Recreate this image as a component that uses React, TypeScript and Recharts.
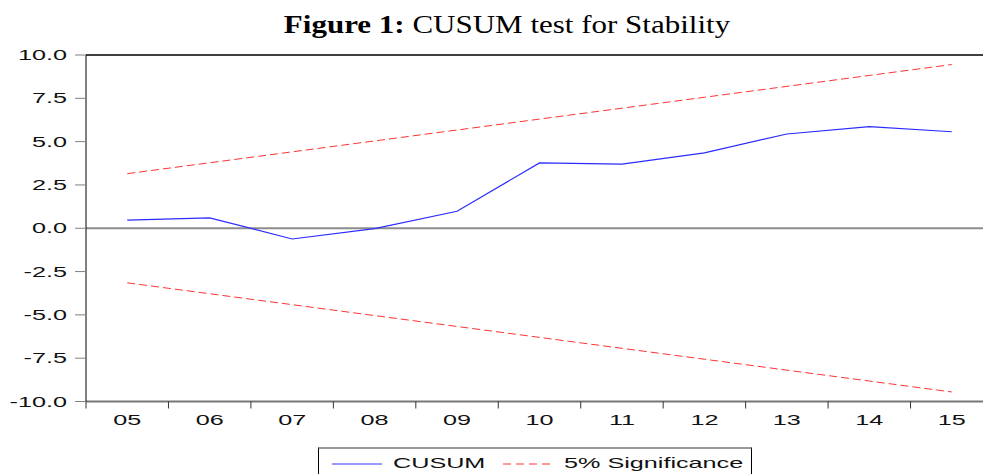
import React from "react";
import { LineChart, Line, XAxis, YAxis, ReferenceLine, Legend } from "recharts";

// values
const years = ["05", "06", "07", "08", "09", "10", "11", "12", "13", "14", "15"];
const cusum = [0.47, 0.6, -0.62, -0.02, 0.98, 3.77, 3.7, 4.35, 5.44, 5.87, 5.57];
const upper = [3.15, 3.78, 4.41, 5.04, 5.67, 6.3, 6.93, 7.56, 8.19, 8.82, 9.45];
const lower = [-3.15, -3.78, -4.41, -5.04, -5.67, -6.3, -6.93, -7.56, -8.19, -8.82, -9.45];
const yTicks = [-10, -7.5, -5, -2.5, 0, 2.5, 5, 7.5, 10];
const labelTicks = [0, 1, 2, 3, 4, 5, 6, 7, 8, 9, 10];
const boundaryTicks = [-0.5, 0.5, 1.5, 2.5, 3.5, 4.5, 5.5, 6.5, 7.5, 8.5, 9.5, 10.5];

const data = years.map((year, i) => ({
    idx: i,
    year,
    cusum: cusum[i],
    upper: upper[i],
    lower: lower[i],
}));

const FONT = "'Liberation Sans', Arial, sans-serif";
const STRETCH = 1.8;

const WideText = ({ x, y, anchor, children }: any) => (
    <text
        transform={`translate(${x},${y}) scale(${STRETCH},1)`}
        textAnchor={anchor}
        fontFamily={FONT}
        fontSize={14}
        fill="#111"
    >
        {children}
    </text>
);

const YTick = ({ x, y, payload }: any) => (
    <WideText x={x} y={y + 5} anchor="end">
        {Number(payload.value).toFixed(1)}
    </WideText>
);

const XTick = ({ x, y, payload }: any) => (
    <WideText x={x} y={y + 22} anchor="middle">
        {years[payload.value]}
    </WideText>
);

const renderLegend = () => (
    <div
        style={{
            boxSizing: "border-box",
            width: 434,
            height: 40,
            borderLeft: "1px solid #000",
            borderRight: "1px solid #000",
            borderTop: "2px solid #999",
            background: "#fff",
        }}
    >
        <svg width={432} height={38} style={{ display: "block" }}>
            <line x1={13} y1={15} x2={63} y2={15} stroke="#3333ff" strokeWidth={1} />
            <WideText x={74} y={19} anchor="start">CUSUM</WideText>
            <line
                x1={184}
                y1={15}
                x2={234}
                y2={15}
                stroke="#ff3333"
                strokeWidth={1}
                strokeDasharray="8 5"
            />
            <WideText x={245} y={19} anchor="start">5% Significance</WideText>
        </svg>
    </div>
);

export default function App() {
    return (
        <div
            style={{
                position: "absolute",
                left: 0,
                top: 0,
                width: 983,
                height: 474,
                overflow: "hidden",
                background: "#fff",
            }}
        >
            <svg
                width={983}
                height={45}
                style={{ position: "absolute", left: 0, top: 0 }}
            >
                <text
                    transform={`translate(507,33) scale(1.24,1)`}
                    textAnchor="middle"
                    fontFamily="'Liberation Serif', 'Times New Roman', serif"
                    fontSize={25}
                    fill="#000"
                >
                    <tspan fontWeight="bold">Figure 1:</tspan> CUSUM test for Stability
                </text>
            </svg>
            <LineChart
                width={1000}
                height={474}
                data={data}
                margin={{ top: 55, right: 7, left: 0, bottom: 32.5 }}
            >
                <XAxis
                    xAxisId="bnd"
                    type="number"
                    dataKey="idx"
                    domain={[-0.5, 10.5]}
                    allowDataOverflow
                    ticks={boundaryTicks}
                    tickFormatter={() => ""}
                    height={1}
                    tickSize={7}
                    axisLine={{ stroke: "#777", strokeWidth: 2 }}
                    tickLine={{ stroke: "#333" }}
                />
                <XAxis
                    xAxisId="lab"
                    type="number"
                    dataKey="idx"
                    domain={[-0.5, 10.5]}
                    allowDataOverflow
                    ticks={labelTicks}
                    height={39}
                    tickSize={0}
                    tickMargin={0}
                    axisLine={false}
                    tickLine={false}
                    tick={<XTick />}
                />
                <YAxis
                    type="number"
                    domain={[-10, 10]}
                    ticks={yTicks}
                    width={86}
                    tickSize={11}
                    tickMargin={8}
                    axisLine={{ stroke: "#000" }}
                    tickLine={{ stroke: "#808080" }}
                    tick={<YTick />}
                />
                <ReferenceLine xAxisId="bnd" y={0} stroke="#8c8c8c" strokeWidth={2} />
                <ReferenceLine xAxisId="bnd" y={10} stroke="#000" strokeWidth={1.5} />
                <Line
                    xAxisId="bnd"
                    dataKey="upper"
                    stroke="#ff3333"
                    strokeWidth={1}
                    strokeDasharray="8 4"
                    dot={false}
                    isAnimationActive={false}
                />
                <Line
                    xAxisId="bnd"
                    dataKey="lower"
                    stroke="#ff3333"
                    strokeWidth={1}
                    strokeDasharray="8 4"
                    dot={false}
                    isAnimationActive={false}
                />
                <Line
                    xAxisId="lab"
                    dataKey="cusum"
                    stroke="#2b2bff"
                    strokeWidth={1.2}
                    dot={false}
                    isAnimationActive={false}
                />
                <Legend
                    layout="horizontal"
                    verticalAlign="middle"
                    align="center"
                    wrapperStyle={{ left: 318, top: 447, width: 434 }}
                    content={renderLegend}
                />
            </LineChart>
        </div>
    );
}
